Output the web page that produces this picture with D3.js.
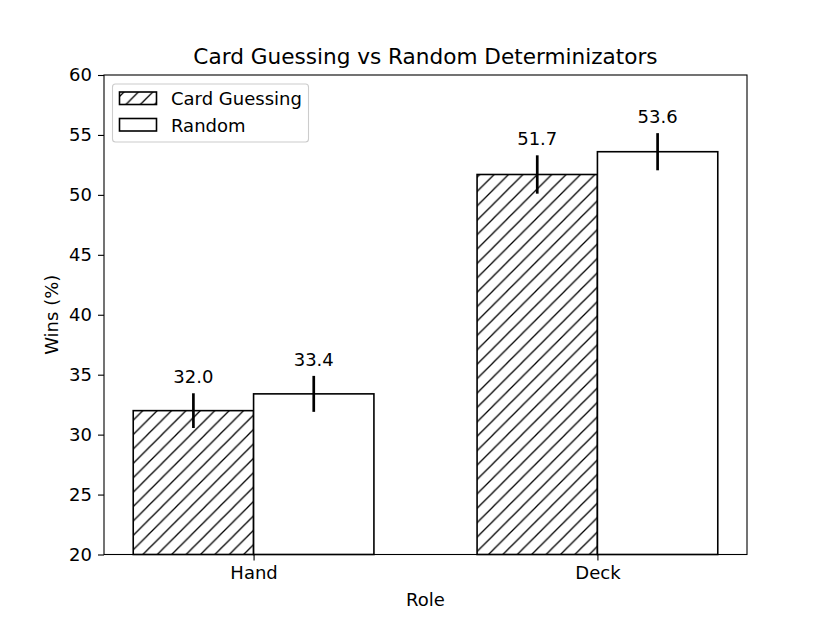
<!DOCTYPE html>
<html>
<head>
<meta charset="utf-8">
<title>Card Guessing vs Random Determinizators</title>
<script src="https://d3js.org/d3.v7.min.js"></script>
<style>
  body { margin: 0; background: #fff; font-family: "DejaVu Sans", sans-serif; }
  svg text { fill: #000; }
</style>
</head>
<body>
<svg id="chart"></svg>
<script>
// data
const roles = ["Hand", "Deck"];
const seriesNames = ["Card Guessing", "Random"];
const cardGuessing = [32.0, 51.7];
const cardGuessingErr = [1.45, 1.6];
const random = [33.4, 53.6];
const randomErr = [1.5, 1.55];
const yTicks = [20, 25, 30, 35, 40, 45, 50, 55, 60];

const W = 830, H = 623;
const margin = { top: 75, right: 83, bottom: 68.5, left: 104 };
const width = W - margin.left - margin.right;
const height = H - margin.top - margin.bottom;
const fs = "18px";

const svg = d3.select("#chart").attr("width", W).attr("height", H);

// hatch pattern
const defs = svg.append("defs");
const pat = defs.append("pattern")
  .attr("id", "hatch")
  .attr("patternUnits", "userSpaceOnUse")
  .attr("width", 14.4).attr("height", 14.4);
pat.append("rect").attr("width", 14.4).attr("height", 14.4).attr("fill", "#fff");
pat.append("path")
  .attr("d", "M-3.6,3.6 L3.6,-3.6 M0,14.4 L14.4,0 M10.8,18 L18,10.8")
  .attr("stroke", "#000").attr("stroke-width", 1.3);

const g = svg.append("g").attr("transform", `translate(${margin.left},${margin.top})`);

// x is continuous like matplotlib bar positions
const barW = 0.35;
const x = d3.scaleLinear().domain([-0.435, 1.435]).range([0, width]);
const y = d3.scaleLinear().domain([20, 60]).range([height, 0]);

const series = [
  { name: seriesNames[0], vals: cardGuessing, err: cardGuessingErr, off: -barW / 2, fill: "url(#hatch)" },
  { name: seriesNames[1], vals: random, err: randomErr, off: barW / 2, fill: "#fff" }
];

series.forEach(s => {
  const grp = g.append("g");
  const items = roles.map((r, i) => ({ i: i, v: s.vals[i], e: s.err[i] }));
  grp.selectAll("rect").data(items).enter().append("rect")
    .attr("x", d => x(d.i + s.off - barW / 2))
    .attr("width", d => x(barW) - x(0))
    .attr("y", d => y(d.v))
    .attr("height", d => y(20) - y(d.v))
    .attr("fill", s.fill)
    .attr("stroke", "#000")
    .attr("stroke-width", 1.6);
  grp.selectAll("line").data(items).enter().append("line")
    .attr("x1", d => x(d.i + s.off)).attr("x2", d => x(d.i + s.off))
    .attr("y1", d => y(d.v - d.e)).attr("y2", d => y(d.v + d.e))
    .attr("stroke", "#000").attr("stroke-width", 2.7);
  grp.selectAll("text").data(items).enter().append("text")
    .attr("x", d => x(d.i + s.off))
    .attr("y", d => y(d.v + d.e) - 10)
    .attr("text-anchor", "middle")
    .style("font-size", fs)
    .text(d => d.v.toFixed(1));
});

// axes
const yAxis = d3.axisLeft(y).tickValues(yTicks).tickSize(6).tickPadding(6);
const yg = g.append("g").call(yAxis);
yg.select(".domain").remove();
yg.selectAll("text").style("font-size", fs).style("font-family", "DejaVu Sans");
yg.selectAll("line").attr("stroke-width", 1.1);

const xAxis = d3.axisBottom(x).tickValues([0, 1]).tickFormat(d => roles[d]).tickSize(6).tickPadding(6);
const xg = g.append("g").attr("transform", `translate(0,${height})`).call(xAxis);
xg.select(".domain").remove();
xg.selectAll("text").style("font-size", fs).style("font-family", "DejaVu Sans");
xg.selectAll("line").attr("stroke-width", 1.1);

g.append("rect").attr("width", width).attr("height", height)
  .attr("fill", "none").attr("stroke", "#000").attr("stroke-width", 1.1);

// title and labels
svg.append("text").attr("x", margin.left + width / 2).attr("y", 64)
  .attr("text-anchor", "middle").style("font-size", "21.6px")
  .text("Card Guessing vs Random Determinizators");
svg.append("text").attr("x", margin.left + width / 2).attr("y", 606)
  .attr("text-anchor", "middle").style("font-size", fs).text("Role");
svg.append("text")
  .attr("transform", `translate(58,${margin.top + height / 2}) rotate(-90)`)
  .attr("text-anchor", "middle").style("font-size", fs).text("Wins (%)");

// legend
const lg = svg.append("g");
lg.append("rect").attr("x", 112.5).attr("y", 84).attr("width", 196).attr("height", 58)
  .attr("rx", 3).attr("fill", "#fff").attr("fill-opacity", 0.8)
  .attr("stroke", "#ccc").attr("stroke-width", 1.1);
series.forEach((s, i) => {
  lg.append("rect").attr("x", 119.5).attr("y", 92 + i * 26.5).attr("width", 37).attr("height", 12.5)
    .attr("fill", s.fill).attr("stroke", "#000").attr("stroke-width", 1.6);
  lg.append("text").attr("x", 171).attr("y", 105 + i * 26.5)
    .style("font-size", fs).text(s.name);
});
</script>
</body>
</html>
